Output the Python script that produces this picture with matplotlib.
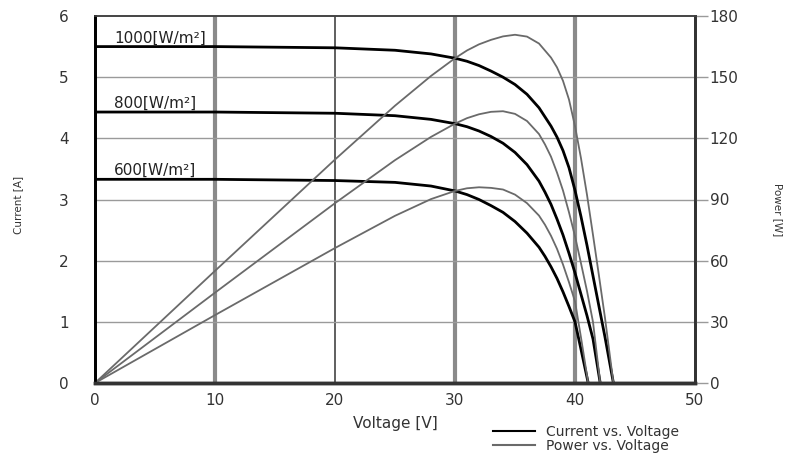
import matplotlib.pyplot as plt
from matplotlib.lines import Line2D

# curvas I-V e P-V do painel para tres niveis de irradiancia
v_1000 = [0, 10, 20, 25, 28, 30, 31, 32, 33, 34, 35, 36, 37, 38, 38.5, 39, 39.5, 40, 40.5, 41, 41.5, 42, 42.5, 43.2]
i_1000 = [5.50, 5.50, 5.48, 5.44, 5.38, 5.31, 5.26, 5.19, 5.10, 5.00, 4.88, 4.72, 4.50, 4.20, 4.02, 3.80, 3.52,
          3.15, 2.72, 2.25, 1.75, 1.25, 0.75, 0]
p_1000 = [0, 55.0, 109.6, 136.0, 150.6, 159.3, 163.1, 166.1, 168.3, 170.0, 170.8, 169.9, 166.5, 159.6, 154.8,
          148.2, 139.0, 126.0, 110.2, 92.3, 72.6, 52.5, 31.9, 0]

v_800 = [0, 10, 20, 25, 28, 30, 31, 32, 33, 34, 35, 36, 37, 37.5, 38, 38.5, 39, 39.5, 40, 40.5, 41, 41.5, 42.1]
i_800 = [4.43, 4.43, 4.41, 4.37, 4.31, 4.24, 4.19, 4.12, 4.03, 3.92, 3.77, 3.57, 3.30, 3.12, 2.92, 2.68, 2.42,
         2.12, 1.80, 1.45, 1.10, 0.72, 0]
p_800 = [0, 44.3, 88.2, 109.3, 120.7, 127.2, 129.9, 131.8, 133.0, 133.3, 132.0, 128.5, 122.1, 117.0, 111.0,
         103.2, 94.4, 83.7, 72.0, 58.7, 45.1, 29.9, 0]

v_600 = [0, 10, 20, 25, 28, 30, 31, 32, 33, 34, 35, 36, 37, 37.5, 38, 38.5, 39, 39.5, 40, 40.5, 41.1]
i_600 = [3.33, 3.33, 3.31, 3.28, 3.22, 3.14, 3.08, 3.00, 2.90, 2.79, 2.64, 2.45, 2.22, 2.07, 1.90, 1.71,
         1.49, 1.25, 1.00, 0.55, 0]
p_600 = [0, 33.3, 66.2, 82.0, 90.2, 94.2, 95.5, 96.0, 95.7, 94.9, 92.4, 88.2, 82.1, 77.6, 72.2, 65.8,
         58.1, 49.4, 40.0, 22.3, 0]

rotulos = ['1000[W/m²]', '800[W/m²]', '600[W/m²]']
pos_rotulos = [5.64, 4.58, 3.48]

x_ticks = [0, 10, 20, 30, 40, 50]
y_ticks = [0, 1, 2, 3, 4, 5, 6]
p_ticks = [0, 30, 60, 90, 120, 150, 180]

cor_texto = '#333333'
cor_pot = '#6a6a6a'

fig = plt.figure(figsize=(7.87, 4.54), dpi=100)
ax = fig.add_axes([95 / 787, 1 - 383 / 454, 600 / 787, 367 / 454])
ax2 = ax.twinx()

# grade: verticais 10/30/40 grossas, 20 fina
for xv, lw, cor in [(10, 3.0, '#8a8a8a'), (20, 1.2, '#444444'), (30, 3.0, '#8a8a8a'), (40, 3.0, '#8a8a8a')]:
    ax.axvline(xv, color=cor, lw=lw, zorder=1)
for yv in y_ticks[1:-1]:
    ax.axhline(yv, color='#9a9a9a', lw=1.0, zorder=1)

# corrente
ax.plot(v_1000, i_1000, color='black', lw=2.0, zorder=3)
ax.plot(v_800, i_800, color='black', lw=2.0, zorder=3)
ax.plot(v_600, i_600, color='black', lw=2.0, zorder=3)

# potencia (eixo da direita)
ax2.plot(v_1000, p_1000, color=cor_pot, lw=1.3)
ax2.plot(v_800, p_800, color=cor_pot, lw=1.3)
ax2.plot(v_600, p_600, color=cor_pot, lw=1.3)

for txt, yv in zip(rotulos, pos_rotulos):
    ax.text(1.6, yv, txt, fontsize=11, color='#222222', va='center', ha='left', zorder=4)

ax.set_xlim(0, 50)
ax.set_ylim(0, 6)
ax2.set_ylim(0, 180)
ax.set_xticks(x_ticks)
ax.set_yticks(y_ticks)
ax2.set_yticks(p_ticks)

ax.tick_params(axis='x', length=0, pad=7, labelsize=11, labelcolor=cor_texto)
ax.tick_params(axis='y', length=0, pad=19, labelsize=11, labelcolor=cor_texto)
ax2.tick_params(axis='y', length=9, width=1.0, color='#9a9a9a', pad=1.5, labelsize=11, labelcolor=cor_texto)

ax.set_xlabel('Voltage [V]', fontsize=11, color=cor_texto, labelpad=6)
fig.text(18 / 787, 1 - 205 / 454, 'Current [A]', rotation=90, fontsize=7.5, color=cor_texto,
         ha='center', va='center')
fig.text(778 / 787, 1 - 210 / 454, 'Power [W]', rotation=270, fontsize=7.5, color=cor_texto,
         ha='center', va='center')

for a in (ax, ax2):
    a.spines['left'].set_linewidth(2.0)
    a.spines['right'].set_linewidth(2.0)
    a.spines['bottom'].set_linewidth(2.5)
    a.spines['top'].set_linewidth(1.2)
    a.spines['bottom'].set_color('#333333')
    a.spines['right'].set_color('#333333')
    a.spines['top'].set_color('#444444')

itens = [Line2D([0], [0], color='black', lw=1.5), Line2D([0], [0], color=cor_pot, lw=1.5)]
fig.legend(itens, ['Current vs. Voltage', 'Power vs. Voltage'], loc='center left',
           bbox_to_anchor=(486 / 787, 1 - 439 / 454), frameon=False, fontsize=10,
           handlelength=3.0, handletextpad=0.8, labelspacing=0.05, borderpad=0,
           labelcolor=cor_texto)

fig.savefig('out.png', dpi=100)
